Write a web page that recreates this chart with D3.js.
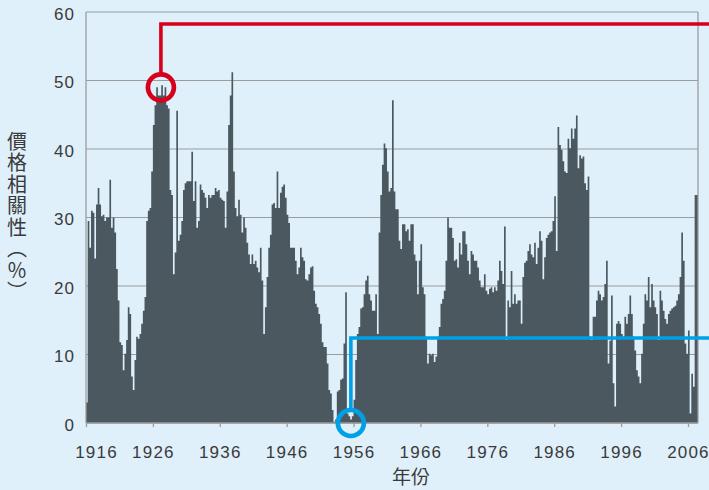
<!DOCTYPE html>
<html lang="zh-Hant">
<head>
<meta charset="UTF-8">
<title>價格相關性</title>
<script src="https://d3js.org/d3.v7.min.js"></script>
<style>
  body { margin: 0; background: #dff0fa; }
  svg { display: block; }
</style>
</head>
<body>
<div id="chart"></div>
<script>
  // Quarterly price correlation (%), starting 1916 Q1
  const startYear = 1916;
  const endYear = 2007.5;
  const values1916 = [
    3, 29.5, 25.6, 31, 30.7, 24, 31.9, 34.3, 31.9, 30.2,
    30.4, 29.5, 30, 30, 35.5, 28.5, 30, 27.8, 22.5, 17.9,
    11.8, 11.4, 7.7, 10.1, 12.1, 16.9, 15.9, 6.8, 4.8, 9.2,
    12.6, 12.3, 13, 14.5, 16.4, 18.4, 29.5, 31, 31.4, 36.7,
    43.5, 46.4, 49, 47.8, 47.8, 49.3, 47.8, 49, 46.4, 45.9,
    34, 33.3, 21.7, 24.9, 45.6, 26.6, 27.5, 29.5, 34, 35,
    35.3, 35.3, 35.3
  ];
  const values1931 = [
    39.6, 32.4, 35.3, 28.5, 29.5, 34.8, 34, 33.6, 32.9, 31.4,
    33.3, 32.9, 33.3, 33.3, 34.3, 33.8, 34, 32.9, 32.6, 32.4,
    28.5, 33.8, 43.5, 47.8, 51.2, 36.7, 31.4, 30.2, 32.6, 30.4,
    27.8, 30, 28.5, 26.3, 24.6, 23.2, 24.6, 23.2, 23.7, 22.7,
    22, 25.6, 20.8, 13, 16.9, 21.3, 25.6, 27.5, 31.9, 32.1,
    31.4, 36.7, 31.4, 33.6, 34.5, 34.8, 32.9, 30.4, 29.2, 25.6,
    25.6, 25.6
  ];
  const values1947 = [
    23.7, 21.7, 22.7, 25.6, 24.2, 23.7, 21, 20.8, 21.7, 22.7,
    22.9, 19.3, 17.4, 16.9, 15.9, 14.5, 11.8, 11.1, 11.1, 8.7,
    4.8, 4.3, 1.9, 0.2, 0.5, 4.6, 4.8, 6.3, 6.5, 11.6,
    19.1, 1.4, 1, 0.5, 1, 3.4, 9.2, 13, 14, 16.7,
    16.9, 18.8, 20.8, 21.5, 18.8, 17.9, 16.4, 16.4, 18.8, 13,
    27.8, 33.3, 37.7, 40.8, 40.1, 36.7, 33.8, 34.3, 47.1, 33.8,
    31.2, 31.2
  ];
  const values1962 = [
    26.6, 25.4, 29, 29, 28, 28.3, 26.6, 29, 29, 24.6,
    23.7, 18.8, 23.7, 26.1, 19.8, 18.8, 12.6, 8.7, 10.1, 9.9,
    10.1, 8.9, 9.7, 12.6, 14, 17.4, 18.1, 19.3, 23.7, 30,
    28.5, 28.5, 27, 23.7, 23.9, 22.7, 26.3, 24.6, 28, 28,
    26.1, 23.7, 21.7, 25.1, 24.6, 23.7, 23.7, 22.7, 20.8, 19.8,
    19.8, 21.7, 19.3, 18.8, 19.6, 19.8, 19.1, 19.8, 19.3, 20.8,
    23.7, 22.2
  ];
  const values1978 = [
    20.3, 28.7, 12.1, 17.9, 16.9, 22.2, 17.4, 18.8, 17.4, 17.9,
    17.9, 14.5, 21.3, 23.4, 23.7, 25.1, 26.1, 24.6, 24.2, 26.3,
    23.2, 25.6, 28, 26.6, 21, 24.2, 27, 27.5, 27.8, 28,
    29.5, 33.1, 25.1, 43.2, 40.6, 39.9, 38.2, 36.7, 36.5, 41.5,
    40.1, 43, 41.5, 43, 44.9, 37.2, 39.1, 38.6, 38.9, 35,
    34, 36, 12.6, 12.1, 15.5, 15.5, 17.9, 19.3, 18.8, 17.9,
    18.4, 20.3
  ];
  const values1993 = [
    23.7, 8.7, 12, 18.6, 5.8, 2.4, 14.5, 14.9, 14.5, 13,
    12.6, 15.5, 14.5, 15.9, 18.6, 15.9, 12.6, 10.6, 7.7, 6.8,
    5.8, 10.1, 14.5, 18.8, 17.9, 21.3, 16.9, 20.3, 17.9, 16.9,
    15.9, 12.1, 19.3, 17.9, 16.4, 15.2, 14.5, 15.9, 16.4, 16.7,
    16.9, 17.1, 17.9, 18.8, 21.3, 27.8, 23.7, 11.6, 10.1, 13.5,
    1.4, 7.2, 5.3, 33.3, 33.3
  ];
  const values = [].concat(values1916, values1931, values1947, values1962, values1978, values1993);

  const xTickYears = [1916, 1926, 1936, 1946, 1956, 1966, 1976, 1986, 1996, 2006];
  const yTicks = [0, 10, 20, 30, 40, 50, 60];

  // highlighted points: the 1920s peak and the 1950s low
  const calloutYears = [1927.2, 1955.6];
  const calloutValues = [49, 0];
  const calloutLevels = [58.25, 12.4];
  const calloutColors = ["#d7001a", "#00a0e6"];

  const width = 709, height = 490;
  const textColor = "#3a3a3a";
  const gridColor = "#9c9c9c";

  const x = d3.scaleLinear().domain([startYear, endYear]).range([86, 698]);
  const y = d3.scaleLinear().domain([0, 60]).range([423, 12]);

  const svg = d3.select("#chart").append("svg")
    .attr("width", width)
    .attr("height", height);

  svg.append("rect")
    .attr("width", width)
    .attr("height", height)
    .attr("fill", "#dff0fa");

  // horizontal gridlines
  svg.append("g")
    .selectAll("line")
    .data(yTicks)
    .join("line")
    .attr("x1", x(startYear))
    .attr("x2", x(endYear))
    .attr("y1", d => y(d))
    .attr("y2", d => y(d))
    .attr("stroke", gridColor)
    .attr("stroke-width", 1.2);

  // the bars, drawn as one stepped area
  const points = values.map((v, i) => [startYear + i / 4, v]);
  points.push([endYear, values[values.length - 1]]);

  const area = d3.area()
    .curve(d3.curveStepAfter)
    .x(d => x(d[0]))
    .y0(y(0))
    .y1(d => y(d[1]));

  svg.append("path")
    .datum(points)
    .attr("d", area)
    .attr("fill", "#4b5860");

  // frame lines: left, bottom, right
  const frame = svg.append("g")
    .attr("stroke", gridColor)
    .attr("stroke-width", 1.3);
  frame.append("line")
    .attr("x1", x(startYear)).attr("x2", x(startYear))
    .attr("y1", y(60)).attr("y2", y(0));
  frame.append("line")
    .attr("x1", x(startYear)).attr("x2", x(endYear))
    .attr("y1", y(0)).attr("y2", y(0));
  frame.append("line")
    .attr("x1", x(endYear)).attr("x2", x(endYear))
    .attr("y1", y(60)).attr("y2", y(0));

  // x axis
  const xAxis = svg.append("g")
    .attr("transform", `translate(0, ${y(0)})`)
    .call(d3.axisBottom(x).tickValues(xTickYears).tickFormat(d3.format("d")).tickSize(4).tickPadding(19));
  xAxis.select(".domain").remove();
  xAxis.selectAll(".tick line").attr("stroke", gridColor).attr("stroke-width", 1.3);
  xAxis.selectAll(".tick text")
    .attr("fill", textColor)
    .attr("dx", d => d === startYear ? 10 : 0)   // first label sits right of the axis
    .style("font-family", "'Liberation Sans', Arial, sans-serif")
    .style("font-size", "17px")
    .style("letter-spacing", "1.2px");

  // y axis
  const yAxis = svg.append("g")
    .attr("transform", `translate(${x(startYear)}, 0)`)
    .call(d3.axisLeft(y).tickValues(yTicks).tickSize(0).tickPadding(11));
  yAxis.select(".domain").remove();
  yAxis.selectAll(".tick text")
    .attr("fill", textColor)
    .attr("dy", "0.42em")
    .style("font-family", "'Liberation Sans', Arial, sans-serif")
    .style("font-size", "17px")
    .style("letter-spacing", "1px");

  // axis titles
  svg.append("text")
    .attr("x", 17)
    .attr("y", 217)
    .attr("text-anchor", "middle")
    .attr("fill", textColor)
    .style("writing-mode", "vertical-rl")
    .style("font-family", "'Noto Sans CJK TC', 'Noto Sans CJK SC', sans-serif")
    .style("font-size", "20px")
    .style("letter-spacing", "1.5px")
    .text("價格相關性（％）");

  svg.append("text")
    .attr("x", 411)
    .attr("y", 484)
    .attr("text-anchor", "middle")
    .attr("fill", textColor)
    .style("font-family", "'Noto Sans CJK TC', 'Noto Sans CJK SC', sans-serif")
    .style("font-size", "19px")
    .text("年份");

  // callouts
  const callouts = svg.append("g")
    .selectAll("g")
    .data(calloutYears.map((yr, i) => ({ yr, v: calloutValues[i], level: calloutLevels[i], color: calloutColors[i] })))
    .join("g");

  callouts.append("path")
    .attr("d", d => `M${x(d.yr)},${y(d.v) - 13}V${y(d.level)}H${width + 5}`)
    .attr("fill", "none")
    .attr("stroke", d => d.color)
    .attr("stroke-width", 3.6);

  callouts.append("circle")
    .attr("cx", d => x(d.yr))
    .attr("cy", d => y(d.v))
    .attr("r", 13)
    .attr("fill", "none")
    .attr("stroke", d => d.color)
    .attr("stroke-width", 4.7);
</script>
</body>
</html>
